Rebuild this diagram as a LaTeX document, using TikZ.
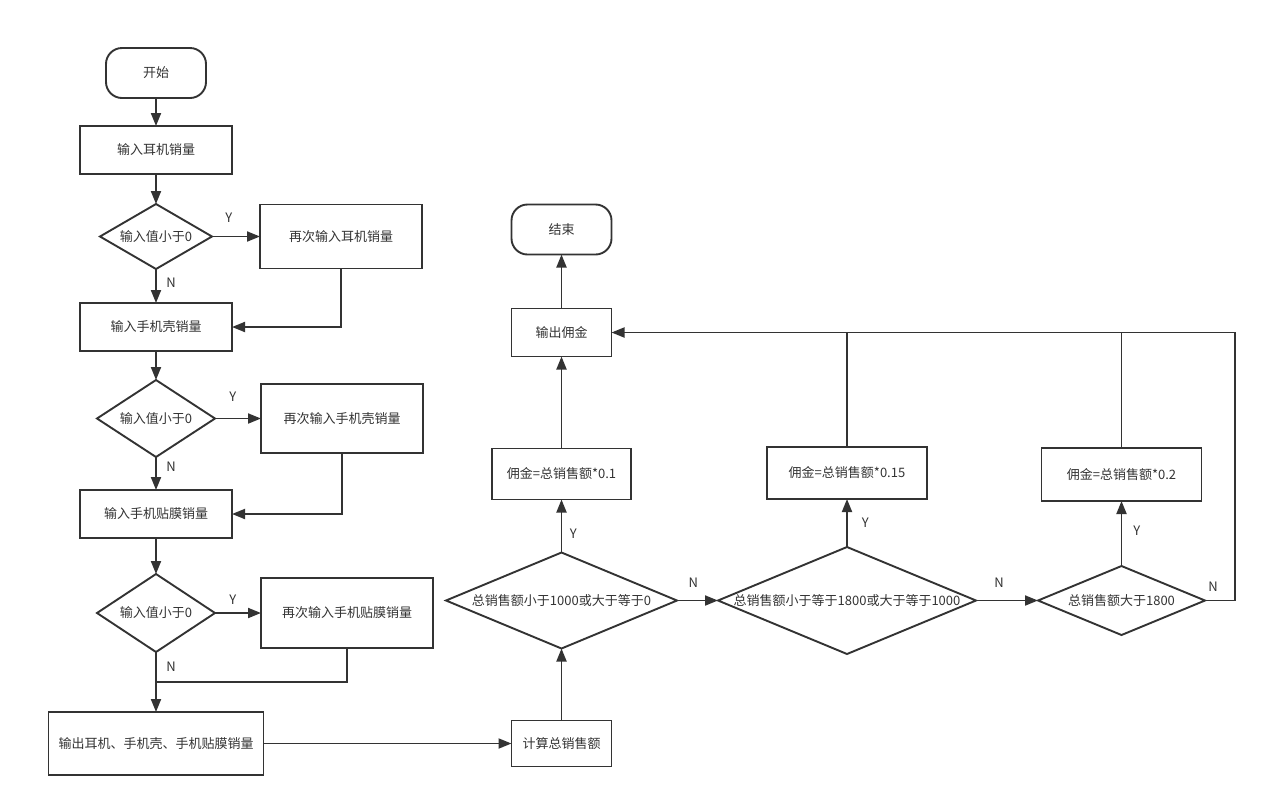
\documentclass[tikz,border=0pt]{standalone}
\usepackage{fontspec}
\setmainfont{Noto Sans CJK SC}
\usetikzlibrary{positioning,arrows.meta,shapes.geometric,calc}
\definecolor{mo}{HTML}{333333}

\begin{document}
\begin{tikzpicture}[
  x=1pt,y=-1pt,
  font=\fontsize{13}{15}\selectfont,
  text=mo,
  kuang/.style={draw=mo,line width=1.9pt,inner sep=0pt,outer sep=0pt,minimum width=152pt,minimum height=48pt},
  yuan/.style={kuang,rounded corners=16pt,minimum width=100pt,minimum height=50pt},
  ling/.style={diamond,draw=mo,line width=1.9pt,inner sep=0pt,outer sep=0pt,aspect=1.6},
  lingk/.style={ling,aspect=2.4},
  jian/.style={-{Triangle[length=13pt,width=10pt]},draw=mo,line width=1.9pt},
  xian/.style={draw=mo,line width=1.9pt},
  biao/.style={font=\fontsize{13}{15}\selectfont,inner sep=0pt}
]
\useasboundingbox (0,0) rectangle (1265,807);

\node[yuan] (a) at (156,73) {开始};
\node[kuang,below=28pt of a] (b) {输入耳机销量};
\node[ling,below=30pt of b,minimum width=112pt,minimum height=65pt] (c) {输入值小于0};
\node[kuang,right=48pt of c,minimum width=162pt,minimum height=64pt] (r1) {再次输入耳机销量};
\node[kuang,below=34pt of c] (d) {输入手机壳销量};
\node[ling,below=29pt of d,minimum width=118pt,minimum height=77pt] (e) {输入值小于0};
\node[kuang,right=46pt of e,minimum width=162pt,minimum height=69pt] (r2) {再次输入手机壳销量};
\node[kuang,below=33pt of e] (f) {输入手机贴膜销量};
\node[ling,below=36pt of f,minimum width=118pt,minimum height=78pt] (g) {输入值小于0};
\node[kuang,right=46pt of g,minimum width=172pt,minimum height=70pt] (r3) {再次输入手机贴膜销量};
\node[kuang,below=60pt of g,minimum width=215pt,minimum height=63pt] (h) {输出耳机、手机壳、手机贴膜销量};

\node[kuang,right=248pt of h,minimum width=100pt,minimum height=46pt] (k) {计算总销售额};
\node[lingk,above=72pt of k,minimum width=231pt,minimum height=96pt] (l) {总销售额小于1000或大于等于0};
\node[kuang,above=53pt of l,minimum width=139pt,minimum height=51pt] (m) {佣金=总销售额*0.1};
\node[kuang,above=92pt of m,minimum width=100pt,minimum height=48pt] (n) {输出佣金};
\node[yuan,above=54pt of n] (o) {结束};
\node[lingk,right=41pt of l,minimum width=258pt,minimum height=107pt] (p) {总销售额小于等于1800或大于等于1000};
\node[kuang,above=48pt of p,minimum width=160pt,minimum height=52pt] (q) {佣金=总销售额*0.15};
\node[lingk,right=62pt of p,minimum width=167pt,minimum height=69pt] (s) {总销售额大于1800};
\node[kuang,above=65pt of s,minimum width=160pt,minimum height=53pt] (t) {佣金=总销售额*0.2};

\coordinate (j) at ($(g.south)!0.5!(h.north)$);

\foreach \x/\y in {a/b,b/c,d/e,f/g,h/k,k/l,m/n,n/o} \draw[jian] (\x) -- (\y);

\draw[jian] (c) -- node[biao,pos=0.41,right=9.5pt] {N} (d);
\draw[jian] (e) -- node[biao,pos=0.3,right=9.5pt] {N} (f);
\draw[jian] (g) -- node[biao,pos=0.25,right=9.5pt] {N} (h);
\draw[jian] (c) -- node[biao,pos=0.35,above=13pt] {Y} (r1);
\draw[jian] (e) -- node[biao,pos=0.39,above=16pt] {Y} (r2);
\draw[jian] (g) -- node[biao,pos=0.39,above=8pt] {Y} (r3);

\draw[jian] (r1) |- (d);
\draw[jian] (r2) |- (f);
\draw[xian] (r3) |- (j);

\draw[jian] (l) -- node[biao,pos=0.36,right=7.5pt] {Y} (m);
\draw[jian] (p) -- node[biao,pos=0.5,right=14pt] {Y} (q);
\draw[jian] (s) -- node[biao,pos=0.54,right=11pt] {Y} (t);
\draw[jian] (l) -- node[biao,pos=0.4,above=12pt] {N} (p);
\draw[jian] (p) -- node[biao,pos=0.37,above=12pt] {N} (s);
\draw[jian] (s.east) -- node[biao,pos=0.27,above=8pt] {N} ++(30,0) |- (n);
\draw[xian] (q) -- (q |- n);
\draw[xian] (t) -- (t |- n);
\end{tikzpicture}
\end{document}
